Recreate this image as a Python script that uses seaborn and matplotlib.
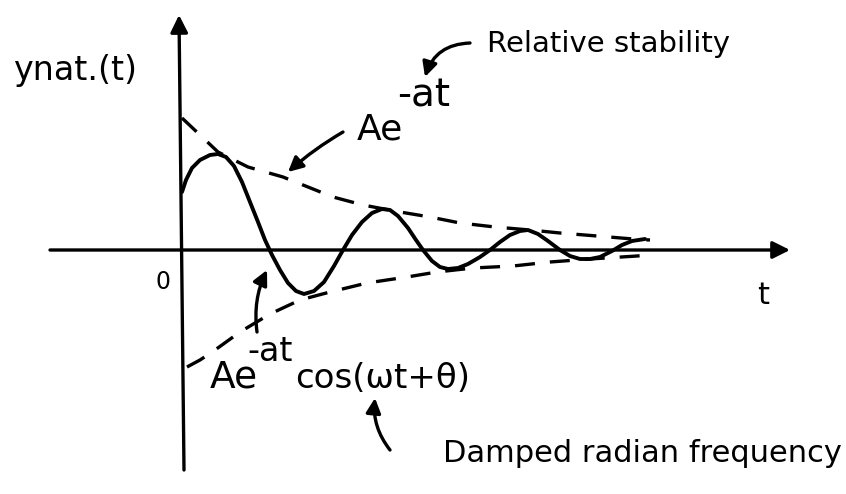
import matplotlib
matplotlib.use("Agg")
import matplotlib.pyplot as plt
import seaborn as sns
import pandas as pd

# Natural response y_nat(t): damped oscillation (solid) and its exponential envelopes (dashed)
t_resp = [0.00, 0.08, 0.20, 0.36, 0.56, 0.72, 0.88, 1.04, 1.20, 1.36, 1.52, 1.66, 1.80,
          1.96, 2.12, 2.28, 2.44, 2.64, 2.84, 3.04, 3.22, 3.40, 3.60, 3.80, 4.00, 4.16,
          4.32, 4.52, 4.68, 4.82, 5.00, 5.16, 5.32, 5.52, 5.72, 5.96, 6.16, 6.36, 6.56,
          6.76, 6.92, 7.12, 7.32, 7.56, 7.76, 7.96, 8.16, 8.36, 8.60, 8.80, 9.00, 9.26]
y_resp = [1.16, 1.40, 1.64, 1.80, 1.90, 1.92, 1.86, 1.68, 1.36, 0.96, 0.56, 0.20, -0.10,
          -0.40, -0.66, -0.82, -0.88, -0.82, -0.64, -0.32, 0.00, 0.30, 0.56, 0.74, 0.82, 0.80,
          0.68, 0.44, 0.20, 0.00, -0.22, -0.34, -0.38, -0.36, -0.28, -0.14, 0.00, 0.16, 0.30,
          0.38, 0.40, 0.32, 0.18, 0.00, -0.12, -0.18, -0.18, -0.14, -0.02, 0.10, 0.18, 0.22]

t_upper = [0.00, 0.36, 0.72, 1.32, 2.02, 3.02, 3.62, 4.36, 4.96, 5.56, 6.26, 6.96, 7.56, 8.30, 9.02, 9.36]
y_upper = [2.64, 2.30, 1.96, 1.66, 1.46, 1.06, 0.90, 0.76, 0.66, 0.54, 0.46, 0.40, 0.34, 0.28, 0.22, 0.20]

t_lower = [0.10, 0.36, 0.66, 1.16, 1.76, 2.36, 2.96, 3.70, 4.50, 5.10, 5.82, 6.62, 7.36, 8.16, 9.10, 9.36]
y_lower = [-2.34, -2.20, -2.00, -1.64, -1.28, -1.00, -0.84, -0.66, -0.54, -0.44, -0.36, -0.32, -0.24, -0.18, -0.12, -0.10]

resp = pd.DataFrame({"t": t_resp, "y": y_resp})
upper = pd.DataFrame({"t": t_upper, "y": y_upper})
lower = pd.DataFrame({"t": t_lower, "y": y_lower})

sns.set_theme(style="white")
plt.rcParams["font.family"] = ["DejaVu Sans"]

fig = plt.figure(figsize=(8.46, 4.94), dpi=100)
ax = fig.add_axes([0, 0, 1, 1])
ax.set_xlim(-3.64, 13.28)
ax.set_ylim(-4.88, 5.0)
ax.axis("off")

ink = "black"

# envelopes +/- A e^{-at}
dash = (0, (6, 4.5))
sns.lineplot(data=upper, x="t", y="y", sort=False, ax=ax, color=ink, lw=2.4, linestyle=dash)
sns.lineplot(data=lower, x="t", y="y", sort=False, ax=ax, color=ink, lw=2.4, linestyle=dash)
# response A e^{-at} cos(wt + theta)
sns.lineplot(data=resp, x="t", y="y", sort=False, ax=ax, color=ink, lw=2.8)

# hand-style axes with arrowheads
axis_arrow = dict(arrowstyle="-|>", color=ink, lw=2.4, mutation_scale=26, shrinkA=0, shrinkB=0)
ax.annotate("", xy=(12.16, 0), xytext=(-2.64, 0), arrowprops=axis_arrow)
ax.annotate("", xy=(-0.06, 4.7), xytext=(0.04, -4.4), arrowprops=axis_arrow)

txt = dict(color=ink, va="baseline", ha="left")
ax.text(-3.38, 3.4, "ynat.(t)", fontsize=24, **txt)
ax.text(-0.38, -0.64, "0", fontsize=17, color=ink, ha="center", va="center")
ax.text(11.62, -0.92, "t", fontsize=22, color=ink, ha="center", va="center")

ax.text(3.5, 2.2, "Ae", fontsize=26, **txt)
ax.text(4.3, 2.86, "-at", fontsize=28, **txt)
ax.text(6.1, 3.96, "Relative stability", fontsize=21, **txt)

ax.text(0.56, -2.74, "Ae", fontsize=27, **txt)
ax.text(1.3, -2.22, "-at", fontsize=24, **txt)
ax.text(2.26, -2.76, "cos(\u03c9t+\u03b8)", fontsize=24.5, **txt)
ax.text(5.22, -4.24, "Damped radian frequency", fontsize=22, **txt)

pointer = dict(arrowstyle="-|>", color=ink, lw=2.4, mutation_scale=22, shrinkA=0, shrinkB=0)
ax.annotate("", xy=(4.86, 3.46), xytext=(5.76, 4.14),
            arrowprops=dict(pointer, connectionstyle="arc3,rad=0.35"))
ax.annotate("", xy=(2.12, 1.56), xytext=(3.22, 2.36),
            arrowprops=dict(pointer, connectionstyle="arc3,rad=0.05"))
ax.annotate("", xy=(1.7, -0.4), xytext=(1.5, -1.64),
            arrowprops=dict(pointer, connectionstyle="arc3,rad=-0.15"))
ax.annotate("", xy=(3.86, -2.96), xytext=(4.16, -4.0),
            arrowprops=dict(pointer, connectionstyle="arc3,rad=-0.2"))

fig.savefig("out.png", dpi=100, facecolor="white")
